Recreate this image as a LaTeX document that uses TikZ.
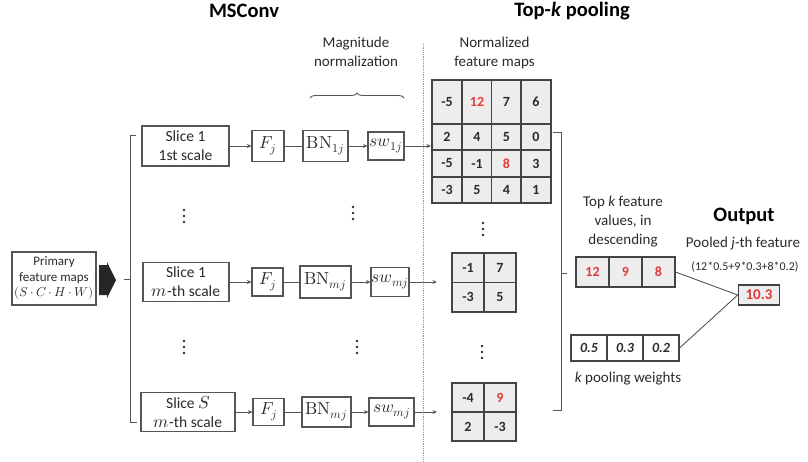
\documentclass[tikz,border=0pt]{standalone}
\usepackage{fontspec}
\usepackage{unicode-math}
\setmainfont{Carlito}
\setmathfont{latinmodern-math.otf}[Scale=1.12]
\usetikzlibrary{arrows.meta,decorations.pathreplacing}
\definecolor{fr}{HTML}{555555}
\definecolor{cellfill}{HTML}{EDEDED}
\definecolor{redv}{HTML}{E23A3A}
\definecolor{txt}{HTML}{2A2A2A}
\newcommand{\vd}[2]{\fill[txt] (#1,#2-6) circle (1.3pt) (#1,#2) circle (1.3pt) (#1,#2+6) circle (1.3pt);}
\newcommand{\mdot}{\mkern3mu{\cdot}\mkern3mu}
\begin{document}
\begin{tikzpicture}[x=1pt,y=-1pt,
  every node/.style={text=txt},
  box/.style={draw=fr,line width=1.1pt,fill=white,inner sep=0pt,align=center,font=\fontsize{15.5}{19}\selectfont},
  cell/.style={draw=fr!80!black,line width=1.1pt,fill=cellfill,inner sep=0pt,minimum width=30pt,font=\fontsize{14}{14}\selectfont\bfseries},
  rcell/.style={cell,text=redv},
  arr/.style={draw=fr,line width=0.9pt,-{Stealth[length=4.5pt,width=4pt]}},
  ln/.style={draw=fr,line width=0.9pt},
  lbl/.style={align=center,font=\fontsize{15}{19}\selectfont,inner sep=0pt},
  ttl/.style={font=\fontsize{20.5}{24}\selectfont\bfseries,text=black,inner sep=0pt}
]
\useasboundingbox (0,0) rectangle (808,461);

% titles
\node[ttl] (tms) at (244,11) {MSConv};
\node[ttl] (ttk) at (572,11) {Top-\textit{k} pooling};
\node[lbl] (tmag) at (356,51.5) {Magnitude\\normalization};
\node[lbl] (tnorm) at (494.5,52.5) {Normalized\\feature maps};

% brace and divider
\draw[ln,decorate,decoration={brace,amplitude=5pt,raise=0pt}] (310,98) -- (404,98);
\draw[gray!80,line width=0.8pt,densely dotted] (423,43) -- (423,461);

% primary feature maps
\node[box,minimum width=84pt,minimum height=53pt,font=\fontsize{13}{15.5}\selectfont] (prim) at (54,278.5) {Primary\\feature maps\\{\fontsize{11.5}{15.5}\selectfont$(S\mdot C\mdot H\mdot W)$}};
\fill[black!85] (99,265) -- (107,265) -- (107,262) -- (116,280) -- (107,298) -- (107,295) -- (99,295) -- cycle;
\draw[ln] (124,279) -- (130,279);
\draw[ln] (136,135) -- (130,135) -- (130,422) -- (137,422);

% row 1
\node[box,minimum width=87pt,minimum height=40pt] (s1) at (185.5,146) {Slice 1\\1st scale};
\node[box,minimum width=32pt,minimum height=31pt] (f1) at (268,146) {$F_j$};
\node[box,minimum width=45pt,minimum height=31pt] (b1) at (325.5,146) {$\symup{BN}_{1j}$};
\node[box,minimum width=36pt,minimum height=28pt] (w1) at (386,146) {$sw_{1j}$};
% row 2
\node[box,minimum width=86pt,minimum height=39pt] (s2) at (186,282) {Slice 1\\$m$-th scale};
\node[box,minimum width=31pt,minimum height=28pt] (f2) at (267.5,282) {$F_j$};
\node[box,minimum width=51pt,minimum height=32pt] (b2) at (325.5,282) {$\symup{BN}_{mj}$};
\node[box,minimum width=38pt,minimum height=29pt] (w2) at (390,282) {$sw_{mj}$};
% row 3
\node[box,minimum width=94pt,minimum height=39pt] (s3) at (188,412) {Slice $S$\\$m$-th scale};
\node[box,minimum width=31pt,minimum height=27pt] (f3) at (268.5,412) {$F_j$};
\node[box,minimum width=49pt,minimum height=30pt] (b3) at (326.5,412) {$\symup{BN}_{mj}$};
\node[box,minimum width=45pt,minimum height=28pt] (w3) at (391.5,412) {$sw_{mj}$};

\foreach \i in {1,2,3}{
  \draw[arr] (s\i) -- (f\i);
  \draw[ln] (f\i) -- (b\i);
  \draw[arr] (b\i) -- (w\i);
}

% dots
\vd{184}{216}
\vd{353}{213}
\vd{184}{347}
\vd{357}{347}
\vd{483}{229}
\vd{482}{352}

% big grid
\node[cell,minimum height=44pt] (g11) at (447,102) {-5};
\node[rcell,minimum height=44pt] (g12) at (477,102) {12};
\node[cell,minimum height=44pt] (g13) at (506.5,102) {7};
\node[cell,minimum height=44pt] (g14) at (536,102) {6};
\node[cell,minimum height=26pt] (g21) at (447,137) {2};
\node[cell,minimum height=26pt] (g22) at (477,137) {4};
\node[cell,minimum height=26pt] (g23) at (506.5,137) {5};
\node[cell,minimum height=26pt] (g24) at (536,137) {0};
\node[cell,minimum height=27pt] (g31) at (447,163.5) {-5};
\node[cell,minimum height=27pt] (g32) at (477,163.5) {-1};
\node[rcell,minimum height=27pt] (g33) at (506.5,163.5) {8};
\node[cell,minimum height=27pt] (g34) at (536,163.5) {3};
\node[cell,minimum height=26pt] (g41) at (447,190) {-3};
\node[cell,minimum height=26pt] (g42) at (477,190) {5};
\node[cell,minimum height=26pt] (g43) at (506.5,190) {4};
\node[cell,minimum height=26pt] (g44) at (536,190) {1};

% small grid 2
\node[cell,minimum width=32pt,minimum height=29.5pt] (h11) at (468,267.75) {-1};
\node[cell,minimum width=32pt,minimum height=29.5pt] (h12) at (500,267.75) {7};
\node[cell,minimum width=32pt,minimum height=29.5pt] (h21) at (468,297.25) {-3};
\node[cell,minimum width=32pt,minimum height=29.5pt] (h22) at (500,297.25) {5};
% small grid 3
\node[cell,minimum width=32pt,minimum height=29pt] (k11) at (468,397.5) {-4};
\node[rcell,minimum width=32pt,minimum height=29pt] (k12) at (500,397.5) {9};
\node[cell,minimum width=32pt,minimum height=29pt] (k21) at (468,426.5) {2};
\node[cell,minimum width=32pt,minimum height=29pt] (k22) at (500,426.5) {-3};

% arrows to maps
\coordinate (a1) at (431,146);
\coordinate (a2) at (437,282);
\coordinate (a3) at (437,412);
\draw[arr] (w1) -- (a1);
\draw[arr] (w2) -- (a2);
\draw[arr] (w3) -- (a3);

% right bracket
\draw[ln] (553,132) -- (561,132) -- (561,410) -- (553,410);
\draw[ln] (561,273) -- (567,273);

% top-k values
\node[lbl] (ttop) at (623,222) {Top \textit{k} feature\\values, in\\descending};
\node[rcell,minimum width=33pt,minimum height=30pt] (t1) at (592.5,272) {12};
\node[rcell,minimum width=33pt,minimum height=30pt] (t2) at (625.5,272) {9};
\node[rcell,minimum width=33pt,minimum height=30pt] (t3) at (658.5,272) {8};

% weights
\node[cell,fill=white,minimum width=36pt,minimum height=26pt,font=\fontsize{14}{14}\selectfont\bfseries\itshape] (q1) at (589,348) {0.5};
\node[cell,fill=white,minimum width=36pt,minimum height=26pt,font=\fontsize{14}{14}\selectfont\bfseries\itshape] (q2) at (625,348) {0.3};
\node[cell,fill=white,minimum width=36pt,minimum height=26pt,font=\fontsize{14}{14}\selectfont\bfseries\itshape] (q3) at (661,348) {0.2};
\node[lbl] (tkw) at (628,379) {\textit{k} pooling weights};

% output
\node[ttl] (tout) at (744,216) {Output};
\node[lbl] (tpool) at (743,244) {Pooled \textit{j}-th feature};
\node[lbl,font=\fontsize{12}{14}\selectfont] (tform) at (745,267) {(12*0.5+9*0.3+8*0.2)};
\node[draw=black!75,line width=1.6pt,fill=cellfill,minimum width=41pt,minimum height=20pt,inner sep=0pt,text=redv,font=\fontsize{15}{15}\selectfont\bfseries] (out) at (759,295) {10.3};
\draw[ln] (t3.east) -- (out.west);
\draw[ln] (q3.east) -- (out.west);
\end{tikzpicture}
\end{document}
